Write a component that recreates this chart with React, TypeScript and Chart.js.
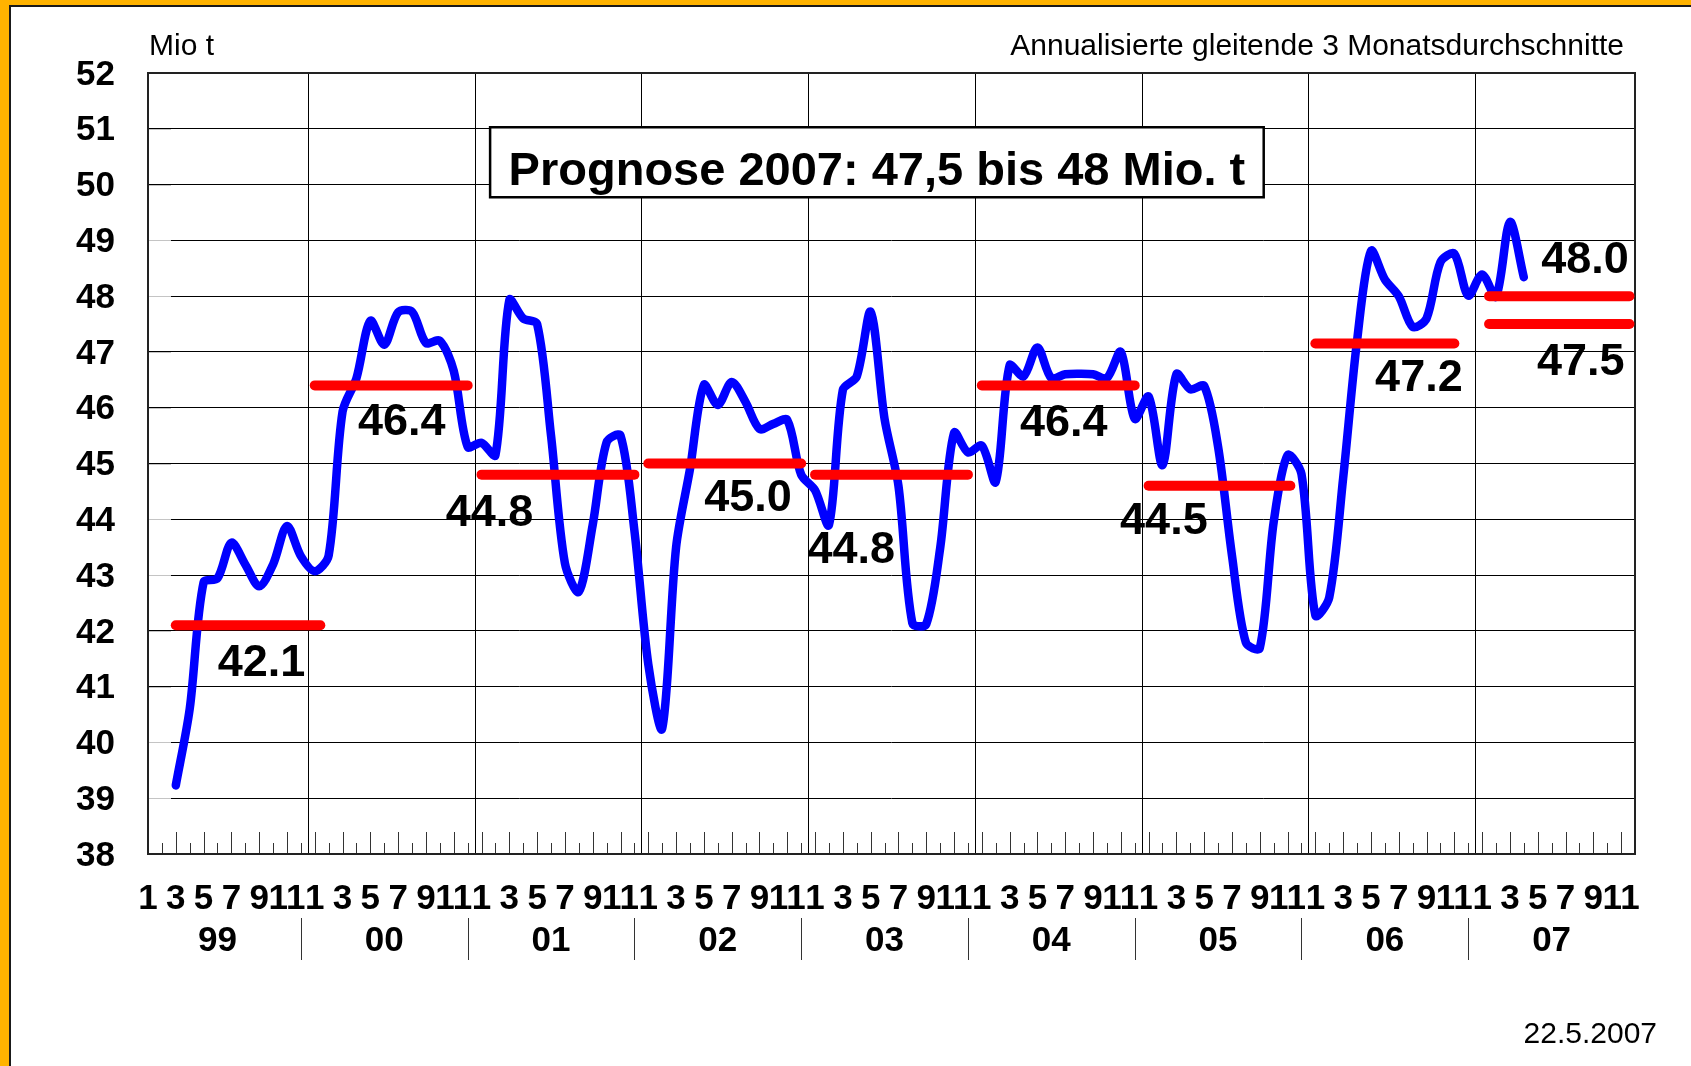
import React, { useEffect, useRef } from "react";
import { Chart, registerables } from "chart.js";

Chart.register(...registerables);

const FONT = "'Liberation Sans', Arial, Helvetica, sans-serif";

// ---- DATA ----
// x axis: month index, 0 = Jan 1999 ... 107 = Dec 2007
const yearLabels = ["99", "00", "01", "02", "03", "04", "05", "06", "07"];
const monthLabels = ["1", "", "3", "", "5", "", "7", "", "9", "", "11", ""];
const yTicks = [38, 39, 40, 41, 42, 43, 44, 45, 46, 47, 48, 49, 50, 51, 52];

// annualised moving 3-month average, monthly from March 1999 to April 2007 (Mio t)
const seriesFirstMonth = 2;
const seriesValues = [
  39.23, 40.6, 42.87, 42.94, 43.58, 43.19, 42.8, 43.19, 43.88, 43.34,
  43.07, 43.35, 45.93, 46.53, 47.56, 47.13, 47.71, 47.72, 47.16, 47.2,
  46.66, 45.3, 45.37, 45.15, 47.93, 47.6, 47.5, 45.5, 43.21, 42.7,
  43.9, 45.38, 45.5, 43.8, 41.4, 40.25, 43.5, 44.9, 46.41, 46.05,
  46.46, 46.1, 45.62, 45.71, 45.78, 44.8, 44.52, 43.9, 46.32, 46.56,
  47.72, 45.8, 44.6, 42.14, 42.12, 43.48, 45.55, 45.2, 45.32, 44.67,
  46.76, 46.56, 47.08, 46.53, 46.6, 46.61, 46.6, 46.53, 47.0, 45.8,
  46.2, 44.97, 46.6, 46.33, 46.39, 45.3, 43.35, 41.79, 41.69, 43.95,
  45.15, 44.81, 42.28, 42.6, 44.74, 47.2, 48.81, 48.3, 48.0, 47.45,
  47.6, 48.61, 48.76, 48.01, 48.39, 47.99, 49.33, 48.34,
];

// annual averages (red bars), span in month index
const annualValues = [42.1, 46.4, 44.8, 45.0, 44.8, 46.4, 44.6, 47.15, 48.0, 47.5];
const annualFrom = [2, 12, 24, 36, 48, 60, 72, 84, 96.5, 96.5];
const annualTo = [12.4, 23, 35, 47, 59, 71, 82.2, 94, 106.6, 106.6];
const annualLabels = ["42.1", "46.4", "44.8", "45.0", "44.8", "46.4", "44.5", "47.2", "48.0", "47.5"];

const unitLabel = "Mio t";
const subtitle = "Annualisierte gleitende 3 Monatsdurchschnitte";
const forecastText = "Prognose 2007: 47,5 bis 48 Mio. t";
const dateText = "22.5.2007";

// ---- LAYOUT (label anchors in axis units) ----
const labelAnchorX = [8.17, 18.26, 24.58, 43.17, 50.6, 65.9, 73.1, 91.45, 103.4, 103.1];
const labelAnchorY = [41.42, 45.73, 44.11, 44.37, 43.43, 45.72, 43.96, 46.52, 48.63, 46.8];
const forecastAnchor = { x: 52.45, y: 50.4 };

const ORANGE = "#FFB300";

const decorPlugin = {
  id: "decor",
  beforeDraw(chart: any) {
    const { ctx, width, height } = chart;
    ctx.save();
    ctx.fillStyle = "#ffffff";
    ctx.fillRect(0, 0, width, height);
    ctx.fillStyle = ORANGE;
    ctx.fillRect(0, 0, width, 5);
    ctx.fillRect(0, 0, 9, height);
    ctx.fillStyle = "#1a1a1a";
    ctx.fillRect(9, 5, width - 9, 2);
    ctx.fillRect(9, 5, 2, height - 5);
    ctx.restore();
  },
  beforeDatasetsDraw(chart: any) {
    const { ctx, chartArea: a, scales } = chart;
    const x = scales.x;
    const y = scales.y;
    ctx.save();
    // lighter start of the horizontal grid lines next to the value axis
    ctx.strokeStyle = "#c4c4c4";
    ctx.lineWidth = 1;
    yTicks.forEach((v) => {
      if (v === yTicks[0] || v === yTicks[yTicks.length - 1]) return;
      const py = Math.round(y.getPixelForValue(v)) + 0.5;
      ctx.beginPath();
      ctx.moveTo(a.left + 1, py);
      ctx.lineTo(a.left + 23, py);
      ctx.stroke();
    });
    // year grid lines
    ctx.strokeStyle = "#000";
    for (let k = 0; k < yearLabels.length - 1; k++) {
      const px = Math.round(x.getPixelForValue(11.5 + 12 * k)) + 0.5;
      ctx.beginPath();
      ctx.moveTo(px, a.top);
      ctx.lineTo(px, a.bottom);
      ctx.stroke();
    }
    // inward month tick marks
    ctx.strokeStyle = "#333";
    const n = yearLabels.length * 12;
    for (let i = 1; i < n; i++) {
      const px = Math.round(x.getPixelForValue(i)) + 0.5;
      const len = i % 2 === 0 ? 22 : 11;
      ctx.beginPath();
      ctx.moveTo(px, a.bottom);
      ctx.lineTo(px, a.bottom - len);
      ctx.stroke();
    }
    // frame
    ctx.strokeStyle = "#222";
    ctx.lineWidth = 2;
    ctx.strokeRect(a.left, a.top, a.right - a.left, a.bottom - a.top);
    ctx.restore();
  },
  afterDatasetsDraw(chart: any) {
    const { ctx, chartArea: a, scales } = chart;
    const x = scales.x;
    const y = scales.y;
    ctx.save();
    // annual value labels
    ctx.fillStyle = "#000";
    ctx.font = `bold 45px ${FONT}`;
    ctx.textAlign = "center";
    ctx.textBaseline = "middle";
    annualLabels.forEach((t, k) => {
      ctx.fillText(t, x.getPixelForValue(labelAnchorX[k]), y.getPixelForValue(labelAnchorY[k]));
    });
    // forecast box
    ctx.font = `bold 47px ${FONT}`;
    const tw = ctx.measureText(forecastText).width;
    const cx = x.getPixelForValue(forecastAnchor.x);
    const cy = y.getPixelForValue(forecastAnchor.y);
    const bw = tw + 37;
    const bh = 70;
    ctx.fillStyle = "#fff";
    ctx.fillRect(cx - bw / 2, cy - bh / 2, bw, bh);
    ctx.strokeStyle = "#000";
    ctx.lineWidth = 2.5;
    ctx.strokeRect(cx - bw / 2, cy - bh / 2, bw, bh);
    ctx.fillStyle = "#000";
    ctx.textBaseline = "alphabetic";
    ctx.fillText(forecastText, cx, cy + 23);

    // year labels and separators below the axis
    ctx.font = `bold 35px ${FONT}`;
    ctx.textBaseline = "middle";
    yearLabels.forEach((t, k) => {
      ctx.fillText(t, x.getPixelForValue(5 + 12 * k), a.bottom + 87);
    });
    ctx.strokeStyle = "#333";
    ctx.lineWidth = 1;
    for (let k = 0; k < yearLabels.length - 1; k++) {
      const px = Math.round(x.getPixelForValue(11 + 12 * k)) + 0.5;
      ctx.beginPath();
      ctx.moveTo(px, a.bottom + 64);
      ctx.lineTo(px, a.bottom + 106);
      ctx.stroke();
    }

    // header / footer texts
    ctx.font = `30px ${FONT}`;
    ctx.textBaseline = "alphabetic";
    ctx.textAlign = "left";
    ctx.fillText(unitLabel, a.left + 1, a.top - 18);
    ctx.textAlign = "right";
    ctx.fillText(subtitle, a.right - 11, a.top - 18);
    ctx.fillText(dateText, chart.width - 34, chart.height - 23);
    ctx.restore();
  },
};

export default function App() {
  const ref = useRef<HTMLCanvasElement>(null);

  useEffect(() => {
    document.body.style.margin = "0";
    const canvas = ref.current;
    if (!canvas) return;
    const monthCount = yearLabels.length * 12;
    const xTickValues = Array.from({ length: monthCount }, (_, i) => i);

    const datasets: any[] = [
      ...annualValues.map((v, k) => ({
        type: "line",
        data: [
          { x: annualFrom[k], y: v },
          { x: annualTo[k], y: v },
        ],
        borderColor: "#FF0000",
        borderWidth: 10,
        borderCapStyle: "round",
        pointRadius: 0,
        tension: 0,
        order: 1,
      })),
      {
        type: "line",
        data: seriesValues.map((v, k) => ({ x: seriesFirstMonth + k, y: v })),
        borderColor: "#0000FF",
        borderWidth: 8.5,
        borderCapStyle: "round",
        borderJoinStyle: "round",
        pointRadius: 0,
        tension: 0.3,
        order: 2,
      },
    ];

    const chart = new Chart(canvas, {
      type: "line",
      data: { datasets },
      options: {
        responsive: false,
        animation: false,
        devicePixelRatio: 1,
        layout: { padding: { left: 0, top: 73, right: 56, bottom: 0 } },
        plugins: {
          legend: { display: false },
          tooltip: { enabled: false },
          title: { display: false },
        },
        scales: {
          x: {
            type: "linear",
            min: 0,
            max: monthCount - 1,
            afterBuildTicks: (s: any) => {
              s.ticks = xTickValues.map((v) => ({ value: v }));
            },
            afterFit: (s: any) => {
              s.height = 212;
            },
            grid: { display: false, drawTicks: false },
            border: { display: false },
            ticks: {
              autoSkip: false,
              maxRotation: 0,
              minRotation: 0,
              padding: 24,
              color: "#000",
              font: { family: FONT, size: 35, weight: "bold" },
              callback: (v: any) => monthLabels[Number(v) % 12],
            },
          },
          y: {
            type: "linear",
            min: 38,
            max: 52,
            afterBuildTicks: (s: any) => {
              s.ticks = yTicks.map((v) => ({ value: v }));
            },
            afterFit: (s: any) => {
              s.width = 148;
            },
            grid: { color: "#000", lineWidth: 1, drawTicks: false },
            border: { display: false },
            ticks: {
              padding: 33,
              labelOffset: 2,
              color: "#000",
              font: { family: FONT, size: 35, weight: "bold" },
            },
          },
        },
      } as any,
      plugins: [decorPlugin],
    } as any);

    return () => chart.destroy();
  }, []);

  return (
    <div style={{ width: 1691, height: 1066, position: "relative" }}>
      <canvas ref={ref} width={1691} height={1066} style={{ display: "block", width: 1691, height: 1066 }} />
    </div>
  );
}
